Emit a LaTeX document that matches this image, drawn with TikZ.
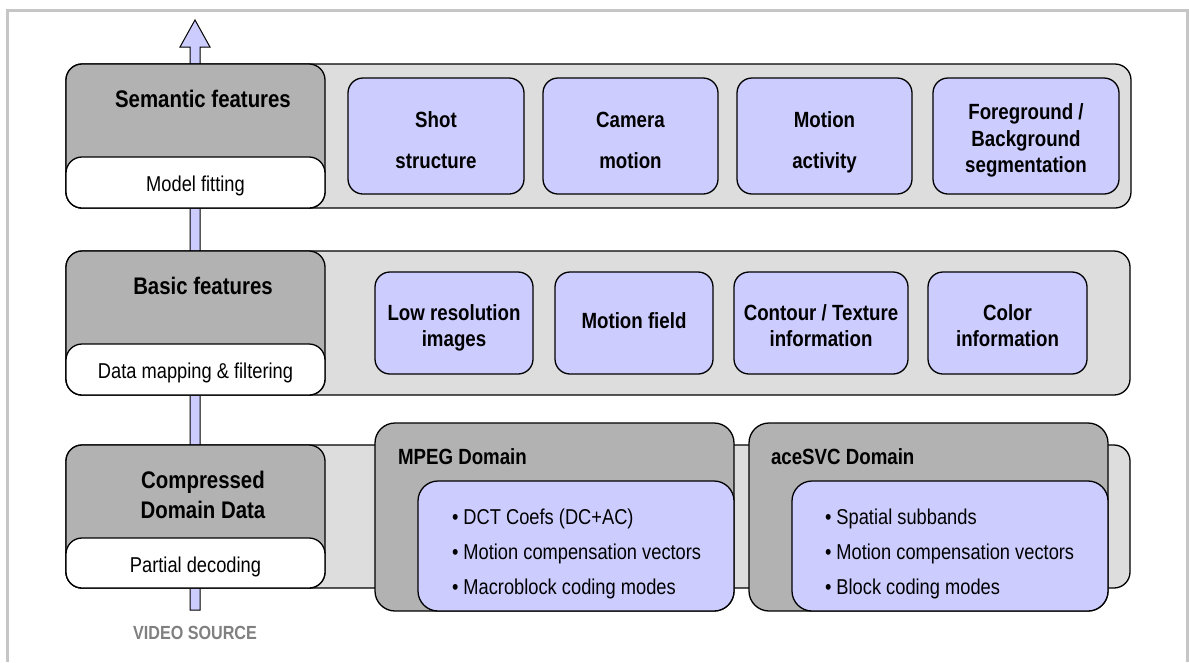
\documentclass[tikz,border=0pt]{standalone}
\usepackage{fontspec}
\setmainfont{Liberation Sans}[FakeStretch=0.85]
\usetikzlibrary{calc}

\definecolor{barGray}{HTML}{DDDDDD}
\definecolor{headGray}{HTML}{B2B2B2}
\definecolor{featBlue}{HTML}{CCCCFF}
\definecolor{frameGray}{HTML}{C6C6C6}
\definecolor{srcGray}{HTML}{808080}

% fixed top height / bottom depth for multi-line labels, so their baselines sit where wanted
\newcommand{\toph}[1]{\rule{0pt}{#1pt}}
\newcommand{\botd}{\rule[-8pt]{0pt}{8pt}}

\begin{document}
\begin{tikzpicture}[x=1pt,y=-1pt,
  every node/.style={inner sep=0pt, outer sep=0pt},
  bar/.style={draw=black, line width=1.3pt, fill=barGray, rounded corners=16pt, rectangle},
  headbox/.style={draw=black, line width=1.3pt, fill=headGray, rounded corners=16pt, rectangle},
  opbox/.style={draw=black, line width=1.3pt, fill=white, rounded corners=16pt, rectangle,
    text height=18pt, text depth=0pt, font=\fontsize{21.5}{26}\selectfont},
  featbox/.style={draw=black, line width=1.3pt, fill=featBlue, rounded corners=15pt, rectangle,
    align=center, font=\fontsize{22}{26.5}\selectfont\bfseries},
  domainbox/.style={draw=black, line width=1.3pt, fill=headGray, rounded corners=20pt, rectangle},
  listbox/.style={draw=black, line width=1.3pt, fill=featBlue, rounded corners=20pt, rectangle},
  headtext/.style={font=\fontsize{24}{30}\selectfont\bfseries, align=center},
  domaintext/.style={font=\fontsize{22}{26}\selectfont\bfseries},
  bullets/.style={font=\fontsize{21.5}{35}\selectfont, align=left},
]
\useasboundingbox (0,0) rectangle (1189,662);

% page frame
\draw[frameGray, line width=3pt] (7,662) -- (7,10) -- (1187,10) -- (1187,662);

% processing direction arrow (behind the layers)
\node[font=\fontsize{19}{22}\selectfont\bfseries, text=srcGray] (src) at (195,633) {VIDEO SOURCE};
\coordinate (srcEnd) at (195,610);
\coordinate (tip) at (195,20);
\draw[line width=1pt, fill=featBlue, line join=miter]
  ($(srcEnd)+(-5,0)$) -- ($(tip)+(-5,27)$) -- ($(tip)+(-15,27)$) -- (tip)
  -- ($(tip)+(15,27)$) -- ($(tip)+(5,27)$) -- ($(srcEnd)+(5,0)$) -- cycle;

% ---------- semantic layer ----------
\node[bar, minimum width=1065pt, minimum height=144pt] (semBar) at (598.5,136) {};
\node[headbox, minimum width=259pt, minimum height=144pt] (semHead) at (195.5,136) {};
\node[opbox, minimum width=259pt, minimum height=51pt] (semOp) at (195.5,182.5) {Model fitting};
\node[headtext, anchor=base] (semTitle) at (203,107) {Semantic features};
\node[featbox, minimum width=176pt, minimum height=116pt] (shot) at (436,136) {\toph{32}Shot\\[14pt]structure\botd};
\node[featbox, minimum width=175pt, minimum height=116pt] (cam) at (630.5,136) {\toph{32}Camera\\[14pt]motion\botd};
\node[featbox, minimum width=175pt, minimum height=116pt] (act) at (824.5,136) {\toph{32}Motion\\[14pt]activity\botd};
\node[featbox, minimum width=186pt, minimum height=116pt] (fg) at (1026,136) {\toph{28}Foreground /\\Background\\segmentation\botd};

% ---------- basic layer ----------
\node[bar, minimum width=1064pt, minimum height=144pt] (basBar) at (598,323) {};
\node[headbox, minimum width=259pt, minimum height=144pt] (basHead) at (195.5,323) {};
\node[opbox, minimum width=259pt, minimum height=51pt] (basOp) at (195.5,369.5) {Data mapping \& filtering};
\node[headtext, anchor=base] (basTitle) at (203,294) {Basic features};
\node[featbox, minimum width=158pt, minimum height=102pt] (lowres) at (454,323) {\toph{29}Low resolution\\images\botd};
\node[featbox, minimum width=158pt, minimum height=102pt] (mfield) at (634,323) {\toph{18}Motion field\botd};
\node[featbox, minimum width=174pt, minimum height=102pt] (contour) at (821,323) {\toph{29}Contour / Texture\\information\botd};
\node[featbox, minimum width=159pt, minimum height=102pt] (colour) at (1007.5,323) {\toph{29}Color\\information\botd};

% ---------- compressed layer ----------
\node[bar, minimum width=1064pt, minimum height=143pt] (cmpBar) at (598,516.5) {};
\node[headbox, minimum width=259pt, minimum height=143pt] (cmpHead) at (195.5,516.5) {};
\node[opbox, minimum width=259pt, minimum height=50pt] (cmpOp) at (195.5,563) {Partial decoding};
\node[headtext] (cmpTitle) at (203,494.5) {Compressed\\Domain Data};

\node[domainbox, minimum width=359pt, minimum height=188pt] (mpeg) at (554.5,517) {};
\node[domaintext, anchor=base west] (mpegTitle) at (398,464) {MPEG Domain};
\node[listbox, minimum width=316pt, minimum height=130pt] (mpegList) at (576,546) {};
\node[bullets, anchor=west] (mpegItems) at (452,554)
  {\textbullet\ DCT Coefs (DC+AC)\\\textbullet\ Motion compensation vectors\\\textbullet\ Macroblock coding modes};

\node[domainbox, minimum width=359pt, minimum height=188pt] (svc) at (928.5,517) {};
\node[domaintext, anchor=base west] (svcTitle) at (771,464) {aceSVC Domain};
\node[listbox, minimum width=316pt, minimum height=130pt] (svcList) at (950,546) {};
\node[bullets, anchor=west] (svcItems) at (825,554)
  {\textbullet\ Spatial subbands\\\textbullet\ Motion compensation vectors\\\textbullet\ Block coding modes};
\end{tikzpicture}
\end{document}
